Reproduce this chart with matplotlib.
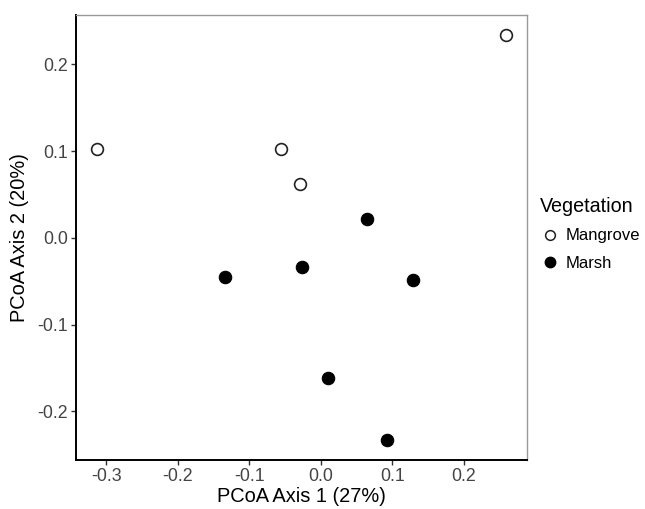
import matplotlib
matplotlib.use("Agg")
import matplotlib.pyplot as plt
from matplotlib.lines import Line2D

plt.rcParams['font.family'] = ['Liberation Sans', 'DejaVu Sans']

mangrove_x = [-0.313, -0.055, -0.029, 0.259]
mangrove_y = [0.102, 0.103, 0.062, 0.234]
marsh_x = [-0.134, -0.026, 0.064, 0.129, 0.010, 0.092]
marsh_y = [-0.045, -0.034, 0.022, -0.049, -0.161, -0.233]

xticks = [-0.3, -0.2, -0.1, 0.0, 0.1, 0.2]
yticks = [-0.2, -0.1, 0.0, 0.1, 0.2]
legend_title = "Vegetation"
legend_labels = ["Mangrove", "Marsh"]

fig = plt.figure(figsize=(6.45, 5.09), dpi=100)
ax = fig.add_axes([76/645, 49/509, 451/645, 445/509])

ax.scatter(mangrove_x, mangrove_y, s=72, facecolors='white', edgecolors='#222222',
           linewidths=1.2, zorder=3)
ax.scatter(marsh_x, marsh_y, s=80, facecolors='black', edgecolors='black',
           linewidths=0.8, zorder=3)

ax.set_xlim(-0.342, 0.288)
ax.set_ylim(-0.256, 0.257)
ax.set_xticks(xticks)
ax.set_xticklabels([f"{v:.1f}" for v in xticks])
ax.set_yticks(yticks)
ax.set_yticklabels([f"{v:.1f}" for v in yticks])

for side in ['left', 'bottom']:
    ax.spines[side].set_color('black')
    ax.spines[side].set_linewidth(1.4)
for side in ['top', 'right']:
    ax.spines[side].set_color('#999999')
    ax.spines[side].set_linewidth(1.0)

ax.tick_params(axis='both', direction='out', length=3.5, width=1.0, color='#333333',
               labelsize=12.8, labelcolor='#444444', pad=2)

ax.set_xlabel("PCoA Axis 1 (27%)", fontsize=14.4, color='black', labelpad=2)
ax.set_ylabel("PCoA Axis 2 (20%)", fontsize=14.4, color='black', labelpad=6)

handles = [
    Line2D([], [], linestyle='none', marker='o', markersize=7, markerfacecolor='white',
           markeredgecolor='#222222', markeredgewidth=1.1),
    Line2D([], [], linestyle='none', marker='o', markersize=7.5, markerfacecolor='black',
           markeredgecolor='black'),
]
leg = fig.legend(handles, legend_labels, title=legend_title, loc='upper left',
                 bbox_to_anchor=(540/645, 1 - 197/509), frameon=False,
                 fontsize=12.0, title_fontsize=14.2, handlelength=1.2, handletextpad=0.35,
                 labelspacing=0.75, borderaxespad=0, borderpad=0)
leg._legend_box.align = "left"

fig.savefig("out.png", dpi=100, facecolor='white')
